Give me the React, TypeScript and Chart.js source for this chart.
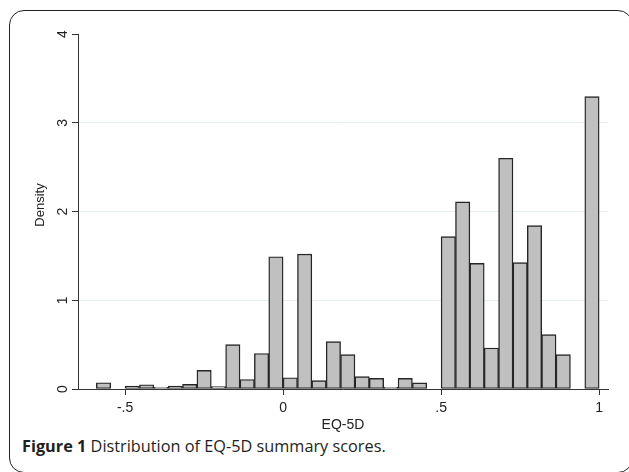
import React, { useEffect, useRef } from "react";
import { Chart, registerables } from "chart.js";

Chart.register(...registerables);

// Histogram bins: index k covers [k/22, (k+1)/22]
const BIN_WIDTH = 1 / 22;
const binIndex = [
  -13, -12, -11, -10, -9, -8, -7, -6, -5, -4, -3, -2, -1,
  0, 1, 2, 3, 4, 5, 6, 7, 8, 9, 10, 11, 12, 13, 14, 15, 16, 17, 18, 19, 20, 21,
];
const density = [
  0.07, 0, 0.034, 0.048, 0.018, 0.034, 0.052, 0.21, 0.026, 0.5, 0.107, 0.4, 1.49,
  0.127, 1.52, 0.094, 0.533, 0.387, 0.139, 0.12, 0.018, 0.12, 0.069, 0, 1.717,
  2.108, 1.416, 0.462, 2.6, 1.424, 1.84, 0.612, 0.387, 0, 3.295,
];
const xTickValues = [-0.5, 0, 0.5, 1];
const xTickLabels = ["-.5", "0", ".5", "1"];
const yTickValues = [0, 1, 2, 3, 4];
const yTickLabels = ["0", "1", "2", "3", "4"];
const xTitle = "EQ-5D";
const yTitle = "Density";
const captionBold = "Figure 1";
const captionText = " Distribution of EQ-5D summary scores.";

const FONT = '"Liberation Sans", Arial, Helvetica, sans-serif';

export default function App() {
  const canvasRef = useRef<HTMLCanvasElement | null>(null);

  useEffect(() => {
    const canvas = canvasRef.current;
    if (!canvas) return;
    const points = binIndex.map((k, i) => ({ x: (k + 0.5) * BIN_WIDTH, y: density[i] }));

    const yLabelPlugin = {
      id: "yLabels",
      afterDraw(chart: any) {
        const ctx = chart.ctx;
        const ys = chart.scales.y;
        ctx.save();
        ctx.fillStyle = "#222";
        ctx.textAlign = "center";
        ctx.textBaseline = "middle";
        ctx.font = `14px ${FONT}`;
        yTickValues.forEach((v, i) => {
          const py = ys.getPixelForValue(v);
          ctx.save();
          ctx.translate(63, py);
          ctx.rotate(-Math.PI / 2);
          ctx.fillText(yTickLabels[i], 0, 0);
          ctx.restore();
        });
        ctx.font = `13px ${FONT}`;
        ctx.save();
        ctx.translate(40, 205);
        ctx.rotate(-Math.PI / 2);
        ctx.fillText(yTitle, 0, 0);
        ctx.restore();
        ctx.restore();
      },
    };

    const chart = new Chart(canvas, {
      type: "bar",
      data: {
        datasets: [
          {
            data: points as any,
            backgroundColor: "#c0c0c0",
            borderColor: "#262626",
            borderWidth: 1.4,
            barPercentage: 1,
            categoryPercentage: 1,
            borderSkipped: false,
          },
        ],
      },
      options: {
        animation: false,
        responsive: false,
        devicePixelRatio: 1,
        layout: { padding: { left: 0, top: 34, right: 21, bottom: 0 } },
        plugins: { legend: { display: false }, tooltip: { enabled: false } },
        scales: {
          x: {
            type: "linear",
            offset: false,
            min: -0.649,
            max: 1.028,
            afterFit(scale: any) {
              scale.height = 45;
            },
            afterBuildTicks(scale: any) {
              scale.ticks = xTickValues.map((v) => ({ value: v }));
            },
            ticks: {
              color: "#222",
              font: { family: FONT, size: 14 },
              padding: 5,
              maxRotation: 0,
              autoSkip: false,
              callback: (v: any) => {
                const i = xTickValues.indexOf(Number(v));
                return i >= 0 ? xTickLabels[i] : "";
              },
            },
            grid: {
              offset: false,
              drawOnChartArea: false,
              tickLength: 6,
              tickColor: "#333",
              tickWidth: 1,
            },
            border: { color: "#333", width: 1 },
            title: {
              display: true,
              text: xTitle,
              color: "#222",
              font: { family: FONT, size: 14 },
              padding: { top: 0, bottom: 0 },
            },
          },
          y: {
            min: 0,
            max: 4,
            afterFit(scale: any) {
              scale.width = 78;
            },
            afterBuildTicks(scale: any) {
              scale.ticks = yTickValues.map((v) => ({ value: v }));
            },
            ticks: { display: false },
            grid: {
              drawOnChartArea: true,
              color: (c: any) =>
                c.tick && c.tick.value > 0 && c.tick.value < 4 ? "#e6eff1" : "rgba(0,0,0,0)",
              tickLength: 6,
              tickColor: "#333",
              tickWidth: 1,
            },
            border: { color: "#333", width: 1 },
          },
        },
      },
      plugins: [yLabelPlugin],
    });
    return () => chart.destroy();
  }, []);

  return (
    <div
      style={{
        position: "fixed",
        left: 0,
        top: 0,
        width: 629,
        height: 472,
        background: "#fff",
        overflow: "hidden",
      }}
    >
      <div
        style={{
          position: "absolute",
          left: 9,
          top: 10,
          width: 624,
          height: 463,
          border: "1.5px solid #222",
          borderRadius: 15,
          boxSizing: "border-box",
        }}
      />
      <canvas
        ref={canvasRef}
        width={629}
        height={434}
        style={{ position: "absolute", left: 0, top: 0, width: 629, height: 434 }}
      />
      <div
        style={{
          position: "absolute",
          left: 22,
          top: 435,
          fontFamily: '"Open Sans", "Noto Sans", sans-serif',
          fontSize: 16.3,
          color: "#231f20",
          whiteSpace: "nowrap",
          lineHeight: "22px",
        }}
      >
        <b>{captionBold}</b>
        {captionText}
      </div>
    </div>
  );
}
